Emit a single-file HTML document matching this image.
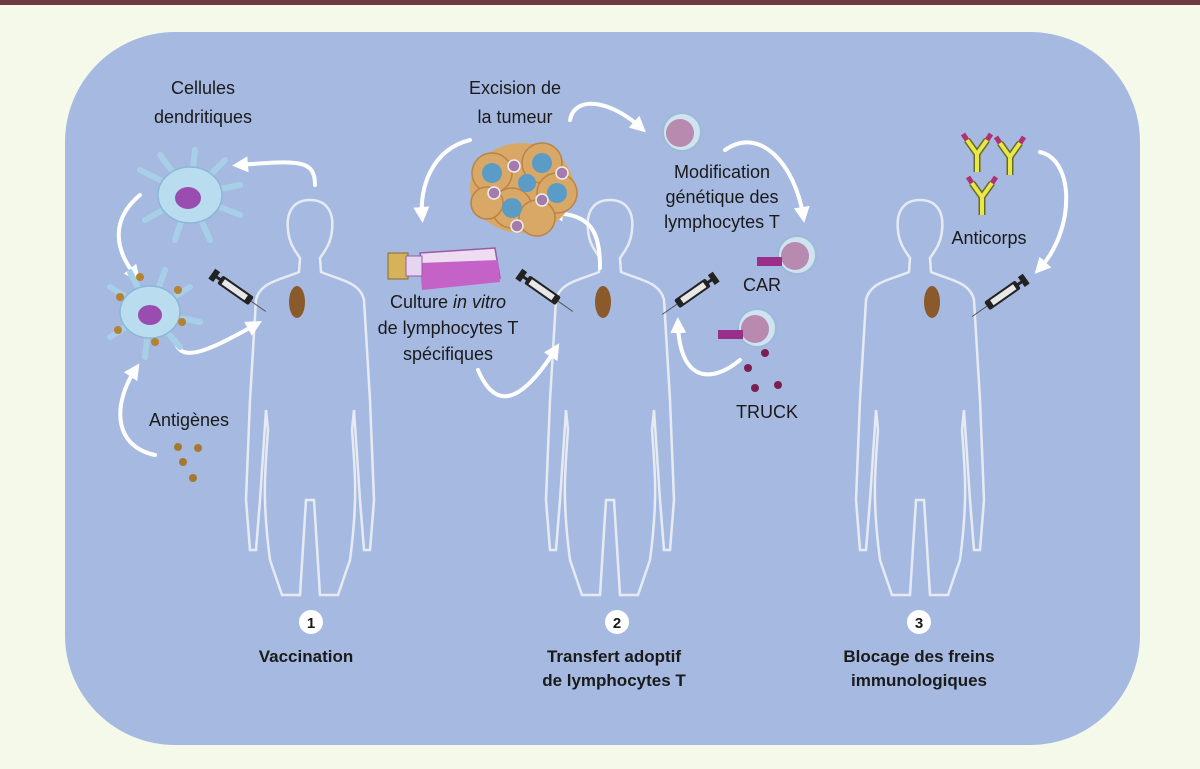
<!DOCTYPE html>
<html><head><meta charset="utf-8"><style>
body{margin:0;width:1200px;height:769px;background:#f4f9ea;font-family:"Liberation Sans",sans-serif;overflow:hidden}
svg{display:block}
text{font-family:"Liberation Sans",sans-serif;fill:#1a1a1a}
</style></head><body>
<svg width="1200" height="769" viewBox="0 0 1200 769">
<defs>
<path id="body" d="M0,0 C18,0 24,14 22,30 C21,44 14,52 10,58 L11,72 C30,80 50,82 54,100 L60,200 L64,300 L60,350 L54,350 L50,300 L44,210 L42,230 C45,270 48,300 40,360 L28,395 L10,395 L4,300 L-4,300 L-10,395 L-28,395 L-40,360 C-48,300 -45,270 -42,230 L-44,210 L-50,300 L-54,350 L-60,350 L-64,300 L-60,200 L-54,100 C-50,82 -30,80 -11,72 L-10,58 C-14,52 -21,44 -22,30 C-24,14 -18,0 0,0 Z" fill="none" stroke="#e6ebf3" stroke-width="2.5"/>
<g id="syr"><rect x="-22" y="-5" width="38" height="10" rx="2" fill="#222"/><rect x="-18" y="-3" width="28" height="6" fill="#e8e8e8"/><rect x="-32" y="-6" width="6" height="12" fill="#222"/><rect x="-28" y="-1.5" width="8" height="3" fill="#222"/><line x1="16" y1="0" x2="34" y2="0" stroke="#555" stroke-width="1"/></g>
<marker id="ah" viewBox="0 0 10 10" refX="5" refY="5" markerWidth="4" markerHeight="4" orient="auto"><path d="M0,0 L10,5 L0,10 Z" fill="#fff"/></marker>
<g id="tcell"><circle r="19" fill="#cfe3f0" stroke="#9bbbd6" stroke-width="2"/><circle cx="-2" cy="1" r="14" fill="#b88ab0"/></g>
<g id="ab"><path d="M0,0 L0,-18 M0,-18 L-10,-32 M0,-18 L10,-32" stroke="#6b6b20" stroke-width="7" fill="none"/><path d="M0,0 L0,-18 M0,-18 L-10,-32 M0,-18 L10,-32" stroke="#e8e84a" stroke-width="4" fill="none"/><path d="M-10,-32 l-4,-6 M10,-32 l4,-6" stroke="#b03070" stroke-width="5"/></g>
</defs>
<rect x="0" y="0" width="1200" height="5" fill="#6b3a45"/>
<rect x="65" y="32" width="1075" height="713" rx="110" fill="#a6b9e1"/>

<use href="#body" x="310" y="200"/>
<use href="#body" x="610" y="200"/>
<use href="#body" x="920" y="200"/>
<ellipse cx="297" cy="302" rx="8" ry="16" fill="#8b5a2b"/>
<ellipse cx="603" cy="302" rx="8" ry="16" fill="#8b5a2b"/>
<ellipse cx="932" cy="302" rx="8" ry="16" fill="#8b5a2b"/>

<!-- syringes -->
<use href="#syr" transform="translate(238,292) rotate(35)"/>
<use href="#syr" transform="translate(545,292) rotate(35)"/>
<use href="#syr" transform="translate(690,295) rotate(145)"/>
<use href="#syr" transform="translate(1000,297) rotate(145)"/>

<!-- arrows -->
<g stroke="#fff" stroke-width="4" fill="none" stroke-linecap="round">
<path d="M315,185 C315,160 300,160 240,165" marker-end="url(#ah)"/>
<path d="M140,195 C110,220 115,250 135,275" marker-end="url(#ah)"/>
<path d="M175,340 C180,365 210,350 255,325" marker-end="url(#ah)"/>
<path d="M155,455 C110,445 115,400 135,370" marker-end="url(#ah)"/>
<path d="M470,140 C430,150 420,190 422,215" marker-end="url(#ah)"/>
<path d="M570,120 C575,95 610,100 640,127" marker-end="url(#ah)"/>
<path d="M600,268 C600,230 590,215 555,213" marker-end="url(#ah)"/>
<path d="M725,150 C760,125 795,165 803,215" marker-end="url(#ah)"/>
<path d="M478,370 C495,410 520,405 555,350" marker-end="url(#ah)"/>
<path d="M740,360 C710,385 680,380 678,325" marker-end="url(#ah)"/>
<path d="M1040,152 C1075,160 1075,230 1040,268" marker-end="url(#ah)"/>
</g>

<!-- dendritic cells -->
<g transform="translate(190,195)">
<g stroke="#a7cfe8" stroke-width="6" stroke-linecap="round"><path d="M0,0 L-50,-25 M0,0 L-30,-40 M0,0 L5,-45 M0,0 L35,-35 M0,0 L50,-10 M0,0 L50,20 M0,0 L20,45 M0,0 L-15,45 M0,0 L-45,25"/></g>
<ellipse rx="32" ry="28" fill="#b9dcef" stroke="#8ab7d6" stroke-width="1.5"/>
<ellipse cx="-2" cy="3" rx="13" ry="11" fill="#9a4db0"/>
</g>
<g transform="translate(150,312)">
<g stroke="#a7cfe8" stroke-width="6" stroke-linecap="round"><path d="M0,0 L-40,-25 M0,0 L-20,-40 M0,0 L15,-42 M0,0 L40,-25 M0,0 L50,10 M0,0 L30,35 M0,0 L-5,45 M0,0 L-40,25"/></g>
<ellipse rx="30" ry="26" fill="#b9dcef" stroke="#8ab7d6" stroke-width="1.5"/>
<ellipse cx="0" cy="3" rx="12" ry="10" fill="#9a4db0"/>
<g fill="#b5822f"><circle cx="-30" cy="-15" r="4"/><circle cx="28" cy="-22" r="4"/><circle cx="32" cy="10" r="4"/><circle cx="5" cy="30" r="4"/><circle cx="-32" cy="18" r="4"/><circle cx="-10" cy="-35" r="4"/></g>
</g>
<g fill="#a67a2c"><circle cx="178" cy="447" r="4"/><circle cx="198" cy="448" r="4"/><circle cx="183" cy="462" r="4"/><circle cx="193" cy="478" r="4"/></g>

<!-- tumor -->
<g transform="translate(522,188)">
<ellipse rx="52" ry="45" fill="#d9a866"/>
<g fill="#d9a866" stroke="#b98446" stroke-width="1.5"><circle cx="-30" cy="-15" r="20"/><circle cx="20" cy="-25" r="20"/><circle cx="35" cy="5" r="20"/><circle cx="-10" cy="20" r="20"/><circle cx="15" cy="30" r="18"/><circle cx="-35" cy="15" r="16"/></g>
<g fill="#5b9cc7"><circle cx="-30" cy="-15" r="10"/><circle cx="20" cy="-25" r="10"/><circle cx="35" cy="5" r="10"/><circle cx="-10" cy="20" r="10"/><circle cx="5" cy="-5" r="9"/></g>
<g fill="#a57bae" stroke="#eee" stroke-width="1.5"><circle cx="-8" cy="-22" r="6"/><circle cx="40" cy="-15" r="6"/><circle cx="20" cy="12" r="6"/><circle cx="-28" cy="5" r="6"/><circle cx="-5" cy="38" r="6"/></g>
</g>

<!-- flask -->
<g transform="translate(400,248)">
<path d="M20,5 L95,0 L100,30 L25,40 Z" fill="#eedcf0" stroke="#9a5aa8" stroke-width="1.5"/>
<path d="M20,15 L98,12 L100,34 L22,42 Z" fill="#c562c8"/>
<rect x="-12" y="5" width="20" height="26" fill="#d4b35a" stroke="#886a2a"/>
<rect x="6" y="8" width="16" height="20" fill="#e6d5f0" stroke="#9a5aa8"/>
</g>

<!-- T cells -->
<use href="#tcell" x="682" y="132"/>
<use href="#tcell" x="797" y="255"/>
<rect x="757" y="257" width="25" height="9" fill="#9a2f8a"/>
<use href="#tcell" x="757" y="328"/>
<rect x="718" y="330" width="25" height="9" fill="#9a2f8a"/>
<g fill="#7a1f4f"><circle cx="765" cy="353" r="4"/><circle cx="748" cy="368" r="4"/><circle cx="778" cy="385" r="4"/><circle cx="755" cy="388" r="4"/></g>

<!-- antibodies -->
<use href="#ab" transform="translate(977,172)"/>
<use href="#ab" transform="translate(1010,175)"/>
<use href="#ab" transform="translate(982,215)"/>

<!-- labels -->
<g font-size="18" text-anchor="middle">
<text x="203" y="94">Cellules</text>
<text x="203" y="123">dendritiques</text>
<text x="189" y="426">Antigènes</text>
<text x="515" y="94">Excision de</text>
<text x="515" y="123">la tumeur</text>
<text x="722" y="178">Modification</text>
<text x="722" y="203">génétique des</text>
<text x="722" y="228">lymphocytes T</text>
<text x="762" y="291">CAR</text>
<text x="767" y="418">TRUCK</text>
<text x="448" y="308">Culture <tspan font-style="italic">in vitro</tspan></text>
<text x="448" y="334">de lymphocytes T</text>
<text x="448" y="360">spécifiques</text>
<text x="989" y="244">Anticorps</text>
</g>
<g text-anchor="middle" font-weight="bold">
<circle cx="311" cy="622" r="12" fill="#fff"/><text x="311" y="628" font-size="15">1</text>
<circle cx="617" cy="622" r="12" fill="#fff"/><text x="617" y="628" font-size="15">2</text>
<circle cx="919" cy="622" r="12" fill="#fff"/><text x="919" y="628" font-size="15">3</text>
<text x="306" y="662" font-size="17">Vaccination</text>
<text x="614" y="662" font-size="17">Transfert adoptif</text>
<text x="614" y="686" font-size="17">de lymphocytes T</text>
<text x="919" y="662" font-size="17">Blocage des freins</text>
<text x="919" y="686" font-size="17">immunologiques</text>
</g>
</svg>
</body></html>
